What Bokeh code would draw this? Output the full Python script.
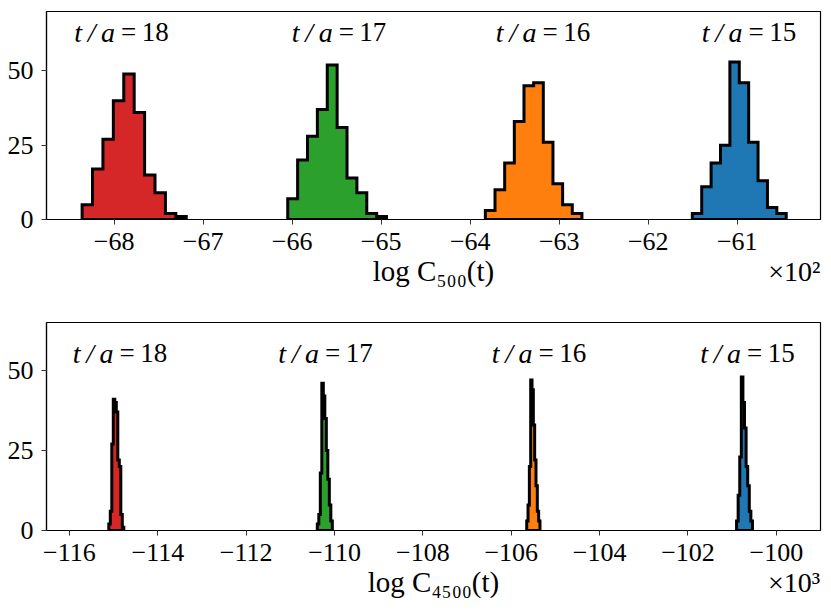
import numpy as np
from bokeh.plotting import figure
from bokeh.layouts import column
from bokeh.models import (Range1d, FixedTicker, CustomJSTickFormatter, LinearAxis,
                          ColumnDataSource)
from bokeh.core.properties import value
from bokeh.embed import file_html
from bokeh.resources import INLINE

# ---------------- data ----------------
times = ["18", "17", "16", "15"]
colors = ["#d62728", "#2ca02c", "#ff7f0e", "#1f77b4"]

# top panel: log C_500(t), in units of 10^2
c500_lo = [-68.36, -66.05, -63.83, -61.505]
c500_hi = [-67.19, -64.94, -62.745, -60.45]
c500_counts = [
    [5, 17, 27, 40, 49, 36, 15, 9, 2, 1],
    [7, 20, 28, 37, 52, 31, 14, 9, 2, 1],
    [3, 10, 19, 33, 45, 46, 26, 12, 5, 2],
    [2, 11, 19, 25, 53, 46, 26, 13, 4, 2],
]
c500_label_x = [-67.956, -65.512, -63.221, -60.907]
c500_ticks = [-68, -67, -66, -65, -64, -63, -62, -61]
c500_xrange = (-68.76, -60.065)
c500_yrange = (0, 70)
c500_label_y = 63
c500_mult_x = -60.36

# bottom panel: log C_4500(t), in units of 10^3
c4500_lo = [-115.11, -110.39, -105.65, -100.90]
c4500_hi = [-114.77, -110.05, -105.35, -100.54]
c4500_counts = [
    [2, 6, 27, 41, 40, 37, 22, 20, 5, 1],
    [2, 5, 18, 46, 42, 35, 25, 16, 8, 3],
    [3, 8, 20, 47, 44, 33, 22, 14, 6, 3],
    [3, 11, 23, 48, 40, 32, 20, 14, 6, 3],
]
c4500_label_x = [-114.933, -110.282, -105.45, -100.73]
c4500_ticks = [-116, -114, -112, -110, -108, -106, -104, -102, -100]
c4500_xrange = (-116.52, -99.0)
c4500_yrange = (0, 65)
c4500_label_y = 55.4
c4500_mult_x = -99.6

y_ticks = [0, 25, 50]

FONT = "Liberation Serif"
minus_fmt = CustomJSTickFormatter(code="return String(tick).replace('-', '\u2212');")


def make_panel(lo, hi, counts, label_x, label_y, ticks, xr, yr, xlabel, mult, mult_x,
               height, top_border, bottom_border):
    p = figure(width=831, height=height,
               x_range=Range1d(*xr), y_range=Range1d(*yr),
               output_backend="svg", toolbar_location=None,
               min_border_left=46, min_border_right=11,
               min_border_top=top_border, min_border_bottom=bottom_border)
    p.background_fill_color = "white"
    p.border_fill_color = "white"
    p.xgrid.visible = False
    p.ygrid.visible = False
    p.outline_line_color = "black"
    p.outline_line_width = 1.2

    for ax in (p.xaxis[0], p.yaxis[0]):
        ax.axis_line_color = "black"
        ax.axis_line_width = 1.2
        ax.major_tick_line_color = "#333333"
        ax.major_tick_in = 0
        ax.major_tick_out = 5
        ax.minor_tick_line_color = None
        ax.major_label_text_font = FONT
        ax.major_label_text_font_size = "26px"
        ax.major_label_text_color = "black"
        ax.major_label_standoff = 8
        ax.formatter = minus_fmt
    p.xaxis[0].ticker = FixedTicker(ticks=ticks)
    p.yaxis[0].ticker = FixedTicker(ticks=y_ticks)

    # second axis row: multiplier on the right and the axis title in the middle
    ax2 = LinearAxis(ticker=FixedTicker(ticks=[mult_x]),
                     formatter=CustomJSTickFormatter(code="return '%s';" % mult))
    ax2.axis_line_color = None
    ax2.major_tick_line_color = None
    ax2.minor_tick_line_color = None
    ax2.major_tick_out = 0
    ax2.major_tick_in = 0
    ax2.major_label_standoff = 3
    ax2.major_label_text_font = FONT
    ax2.major_label_text_font_size = "28px"
    ax2.major_label_text_color = "black"
    ax2.axis_label = xlabel
    ax2.axis_label_text_font = FONT
    ax2.axis_label_text_font_size = "29px"
    ax2.axis_label_text_font_style = "normal"
    ax2.axis_label_text_color = "black"
    ax2.axis_label_standoff = -35
    p.add_layout(ax2, "below")

    for i in range(len(times)):
        c = counts[i]
        edges = np.linspace(lo[i], hi[i], len(c) + 1)
        xs = [edges[0]]
        ys = [0]
        for k in range(len(c)):
            xs += [edges[k], edges[k + 1]]
            ys += [c[k], c[k]]
        xs.append(edges[-1])
        ys.append(0)
        p.patch(xs, ys, fill_color=colors[i], line_color="black",
                line_width=3, line_join="miter")

    src = ColumnDataSource(dict(x=label_x, y=[label_y] * len(label_x),
                                lhs=["t\u2009/\u2009a"] * len(label_x),
                                rhs=["=\u2009" + t for t in times]))
    p.text(x="x", y="y", text="lhs", source=src, text_font=value(FONT),
           text_font_style="italic", text_font_size="28px", text_align="right",
           text_baseline="middle", x_offset=-3, text_color="black")
    p.text(x="x", y="y", text="rhs", source=src, text_font=value(FONT),
           text_font_size="27px", text_align="left",
           text_baseline="middle", x_offset=3, text_color="black")
    return p


top = make_panel(c500_lo, c500_hi, c500_counts, c500_label_x, c500_label_y,
                 c500_ticks, c500_xrange, c500_yrange, "log C\u2085\u2080\u2080(t)",
                 "\u00d710\u00b2", c500_mult_x, 299, 11, 80)
bottom = make_panel(c4500_lo, c4500_hi, c4500_counts, c4500_label_x, c4500_label_y,
                    c4500_ticks, c4500_xrange, c4500_yrange,
                    "log C\u2084\u2085\u2080\u2080(t)", "\u00d710\u00b3", c4500_mult_x,
                    313, 23, 82)

layout = column(top, bottom, spacing=0)
open("out.html", "w").write(file_html(layout, INLINE))
